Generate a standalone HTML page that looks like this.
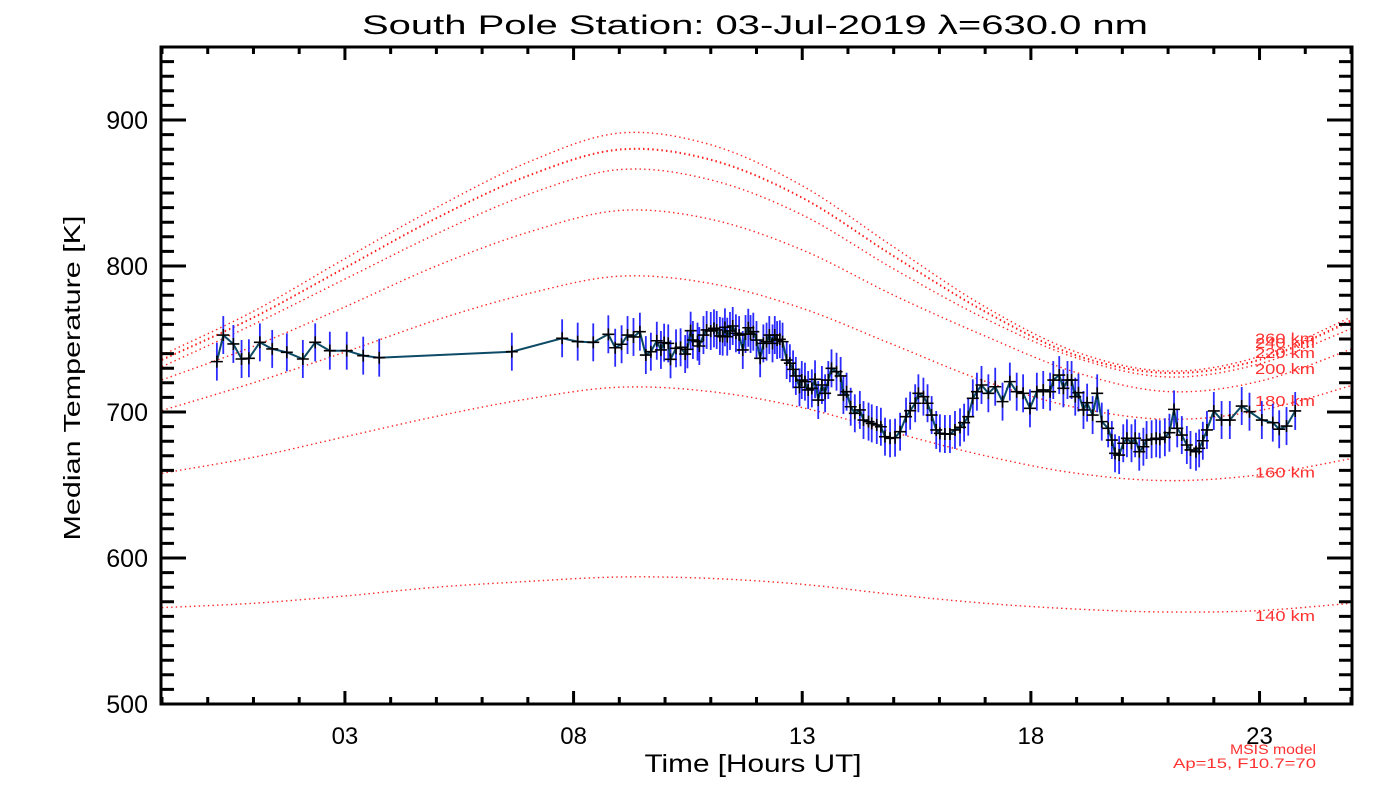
<!DOCTYPE html>
<html><head><meta charset="utf-8"><style>
html,body{margin:0;padding:0;background:#fff;}
svg{display:block;font-family:"Liberation Sans",sans-serif;}
</style></head><body>
<svg id="chart" width="1400" height="800" viewBox="0 0 1400 800" xmlns="http://www.w3.org/2000/svg">
<rect width="1400" height="800" fill="#fff"/>
<text x="755" y="34" font-size="27" text-anchor="middle" textLength="786" lengthAdjust="spacingAndGlyphs">South Pole Station: 03-Jul-2019 λ=630.0 nm</text>
<text transform="translate(80,378) rotate(-90)" font-size="23" text-anchor="middle" textLength="325" lengthAdjust="spacingAndGlyphs">Median Temperature [K]</text>
<text x="753" y="772" font-size="25" text-anchor="middle" textLength="217" lengthAdjust="spacingAndGlyphs">Time [Hours UT]</text>
<text x="1316" y="754" font-size="14" fill="#ff3030" text-anchor="end" textLength="86" lengthAdjust="spacingAndGlyphs">MSIS model</text>
<text x="1316" y="768" font-size="14" fill="#ff3030" text-anchor="end" textLength="143" lengthAdjust="spacingAndGlyphs">Ap=15, F10.7=70</text>
<g id="models"></g>
<g id="series"></g>
<g id="axes"></g>
</svg>
<script>
const xTicks = [3, 8, 13, 18, 23];
const xTickLabels = ["03", "08", "13", "18", "23"];
const yTicks = [500, 600, 700, 800, 900];
const modelHours = [-1, 1, 3, 5, 7, 9, 11, 13, 15, 17, 19, 21, 23, 25];
const modelHeights = ["260 km", "250 km", "240 km", "220 km", "200 km", "180 km", "160 km", "140 km"];
const m260 = [739, 769, 805, 840, 871, 891, 883, 855, 813, 772, 741, 728, 738, 765];
const m250 = [736, 765, 799, 833, 862, 880, 873, 847, 807, 769, 739, 727, 736, 763];
const m240 = [735.5, 764.5, 798.5, 832.5, 861.5, 879.5, 872.5, 846.5, 806.5, 768.5, 738.5, 726.5, 735.5, 762];
const m220 = [731, 760, 791, 822, 849, 866, 859, 835, 798, 764, 737, 724, 733, 757];
const m200 = [722, 745, 772, 800, 823, 838, 832, 811, 780, 752, 727, 714, 721, 743];
const m180 = [701, 720, 741, 763, 781, 793, 788, 771, 746, 721, 703, 695, 701, 718];
const m160 = [658, 669, 683, 697, 709, 717, 714, 703, 686, 670, 658, 653, 657, 668];
const m140 = [566, 569, 574, 580, 584, 587, 586, 582, 575, 569, 565, 563, 564, 569];
const modelLabels = ["260 km", "240 km", "220 km", "200 km", "180 km", "160 km", "140 km"];
const modelLabelTemps = [747, 744, 737, 726, 704, 655, 557];
const obsHours = [0.20,0.34,0.56,0.74,0.90,1.14,1.41,1.73,2.08,2.35,2.67,3.04,3.40,3.75,6.65,7.75,8.09,8.43,
8.76,8.91,9.05,9.18,9.31,9.45,9.58,9.69,9.82,9.91,9.98,10.07,10.12,10.24,10.34,10.44,10.49,10.56,10.61,10.71,10.75,10.84,10.91,11.00,11.07,11.13,11.20,11.26,11.31,11.36,11.42,11.48,11.55,11.62,11.70,11.76,11.82,11.87,11.93,12.00,12.08,12.15,12.22,12.28,12.35,12.40,12.45,12.51,12.57,12.66,12.73,12.80,12.86,12.94,12.99,13.06,13.13,13.21,13.28,13.35,13.43,13.50,13.57,
13.64,13.75,13.84,13.90,13.97,14.06,14.15,14.26,14.34,14.45,14.52,14.63,14.72,14.81,14.92,15.03,15.14,15.27,15.36,15.47,15.54,15.65,15.74,15.83,15.93,16.01,16.12,16.23,16.34,16.45,16.54,16.63,16.73,16.82,16.92,17.07,17.22,17.38,17.54,17.69,17.83,17.98,18.13,18.27,18.42,18.49,18.62,18.71,18.80,
18.89,18.97,19.04,19.15,19.23,19.35,19.45,19.55,19.69,19.77,19.84,19.93,20.02,20.10,20.20,20.28,20.37,20.46,20.53,20.64,20.74,20.82,20.93,21.03,21.13,21.20,21.30,21.41,21.49,21.61,21.68,21.76,21.85,22.00,22.17,22.35,22.61,22.78,23.05,23.29,23.43,23.59,23.78];
const obsTemps = [734.5,752.7,746.6,736.3,736.8,747.7,743.2,740.9,736.3,747.7,742,742,738.6,737.2,741.3,750.5,748.2,747.7,
753.2,744,746.4,752.7,751.4,755,739,741.3,748.8,742.5,747.5,747,736.1,743.6,744.3,739.7,742.9,755.7,749.3,748.2,745.2,752.7,756.2,755.5,757.3,756.2,752.1,751.6,758,751.6,755.5,758.9,753.9,752.7,742.5,753.4,757.7,753.4,755,749.3,736.8,747,748.2,752.7,747,752.7,749.3,749.8,748.2,735.6,733.4,729.2,724.7,716.9,721.9,720.8,715.1,716.2,722.4,708.2,718.5,712.8,721.9,
729.9,727.6,724.7,711.6,713.9,703.6,699.1,701.4,694.5,693.4,692.2,691.1,689.9,683.1,682,682.4,686.5,696.8,700.9,706,712.8,710.5,706,697.9,687.7,685.4,684.9,684.9,687.7,689.5,692.7,696.8,709.4,713.9,718.5,712.8,717.3,707.1,720.8,713.9,712.8,702.5,713.9,715.1,713.9,721.9,725.3,716.2,721.9,
721.9,710.5,713.2,701.4,706.4,697.9,712.8,693.4,688.8,680.8,671.7,670.5,678.6,682,678.6,682,672.8,676.2,680.8,681.3,682,681.3,682.7,685.8,701.8,688.8,684.2,677.4,674,672.8,675.1,680.3,687.7,700.7,694.5,694.5,704.1,700.2,694.5,692.7,688.2,690.4,700.7];
const errK = 13;

const NS = "http://www.w3.org/2000/svg";
const X0 = 162, X1 = 1351, Y0 = 704, Y1 = 47;
const hMin = -1, hMax = 25, tMin = 500, tMax = 950;
function xs(h){ return X0 + (h - hMin) / (hMax - hMin) * (X1 - X0); }
function ys(t){ return Y0 - (t - tMin) / (tMax - tMin) * (Y0 - Y1); }
function mk(tag, attrs, parent){ const e = document.createElementNS(NS, tag); for (const k in attrs) e.setAttribute(k, attrs[k]); parent.appendChild(e); return e; }

const models = document.getElementById('models');
const modelSeries = [m260, m250, m240, m220, m200, m180, m160, m140];
const clip = mk('clipPath', {id: 'plotclip'}, models);
mk('rect', {x: X0, y: Y1, width: X1 - X0, height: Y0 - Y1}, clip);
modelSeries.forEach((vals, i) => {
  const pts = modelHours.map((h, j) => [xs(h), ys(vals[j])]);
  let d = 'M' + pts[0][0].toFixed(1) + ' ' + pts[0][1].toFixed(1);
  for (let j = 0; j < pts.length - 1; j++) {
    const p0 = pts[Math.max(0, j - 1)], p1 = pts[j], p2 = pts[j + 1], p3 = pts[Math.min(pts.length - 1, j + 2)];
    const c1 = [p1[0] + (p2[0] - p0[0]) / 6, p1[1] + (p2[1] - p0[1]) / 6];
    const c2 = [p2[0] - (p3[0] - p1[0]) / 6, p2[1] - (p3[1] - p1[1]) / 6];
    d += ' C' + c1.map(v => v.toFixed(1)).join(' ') + ' ' + c2.map(v => v.toFixed(1)).join(' ') + ' ' + p2[0].toFixed(1) + ' ' + p2[1].toFixed(1);
  }
  const p = mk('path', {d: d, fill: 'none', stroke: '#ff2020', 'stroke-width': 1.4, 'stroke-dasharray': '1.4 3.2', 'clip-path': 'url(#plotclip)'}, models);
  
  
});
modelLabels.forEach((lab, i) => {
  const t = mk('text', {x: 1255, y: ys(modelLabelTemps[i]), 'font-size': 15, fill: '#ff3030', textLength: 60, lengthAdjust: 'spacingAndGlyphs'}, models);
  t.textContent = lab;
  
  
});

const series = document.getElementById('series');
obsHours.forEach((h, i) => {
  const e = mk('line', {x1: xs(h), x2: xs(h), y1: ys(obsTemps[i] + errK), y2: ys(obsTemps[i] - errK), stroke: '#2a2aff', 'stroke-width': 1.8}, series);
  
  
});
const line = mk('polyline', {points: obsHours.map((h, i) => xs(h).toFixed(1) + ',' + ys(obsTemps[i]).toFixed(1)).join(' '), fill: 'none', stroke: '#0d4a66', 'stroke-width': 2}, series);


obsHours.forEach((h, i) => {
  const x = xs(h), y = ys(obsTemps[i]);
  const c = mk('path', {d: `M${x - 6} ${y}H${x + 6}M${x} ${y - 6}V${y + 6}`, stroke: '#000', 'stroke-width': 1.6, fill: 'none'}, series);
  
  
});

const axes = document.getElementById('axes');
const frame = mk('rect', {x: X0 - 1, y: Y1, width: X1 - X0 + 2, height: Y0 - Y1, fill: 'none', stroke: '#000', 'stroke-width': 3}, axes);


for (let h = hMin; h <= hMax; h++) {
  const major = xTicks.includes(h);
  const L = major ? 13 : 7, x = xs(h);
  const t = mk('path', {d: `M${x} ${Y0}V${Y0 - L}M${x} ${Y1}V${Y1 + L}`, stroke: '#000', 'stroke-width': 3}, axes);
  
  
}
xTicks.forEach((h, i) => {
  const t = mk('text', {x: xs(h), y: 744, 'font-size': 24, 'text-anchor': 'middle'}, axes);
  t.textContent = xTickLabels[i];
  
  
});
for (let v = tMin; v <= tMax; v += 10) {
  const major = v % 100 === 0;
  const L = major ? 24 : 12, y = ys(v);
  const t = mk('path', {d: `M${X0} ${y}H${X0 + L}M${X1} ${y}H${X1 - L}`, stroke: '#000', 'stroke-width': 3}, axes);
  
  
}
yTicks.forEach(v => {
  const t = mk('text', {x: 148, y: ys(v) + 9, 'font-size': 25, 'text-anchor': 'end'}, axes);
  t.textContent = String(v);
  
  
});
</script>
</body></html>
